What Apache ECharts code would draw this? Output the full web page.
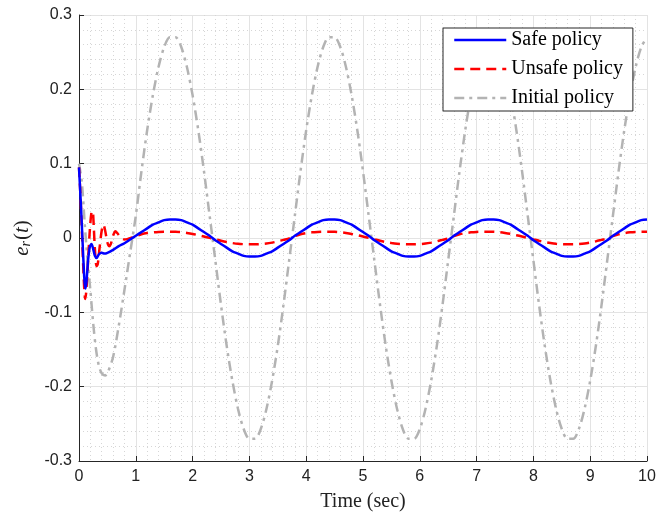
<!DOCTYPE html>
<html>
<head>
<meta charset="utf-8">
<script src="https://cdn.jsdelivr.net/npm/echarts@6/dist/echarts.min.js"></script>
<style>html,body{margin:0;padding:0;background:#fff;}#c{width:672px;height:517px;}</style>
</head>
<body>
<div id="c"></div>
<script>
// Transient portion (t < 1 s)
var tSafeStart = [0, 0.03, 0.06, 0.09, 0.11, 0.13, 0.16, 0.19, 0.22, 0.25, 0.28, 0.31, 0.35, 0.40, 0.45, 0.50, 0.60, 0.70, 0.80, 0.90];
var safeStart  = [0.095, 0.05, 0.0, -0.05, -0.068, -0.06, -0.03, -0.012, -0.008, -0.015, -0.024, -0.027, -0.022, -0.020, -0.021, -0.020, -0.016, -0.011, -0.007, -0.002];

var tUnsafeStart = [0, 0.03, 0.06, 0.09, 0.11, 0.13, 0.16, 0.19, 0.22, 0.24, 0.26, 0.28, 0.31, 0.33, 0.36, 0.40, 0.43, 0.46, 0.50, 0.53, 0.56, 0.60, 0.64, 0.68, 0.72, 0.76, 0.80, 0.85, 0.90, 0.95];
var unsafeStart  = [0.095, 0.05, -0.01, -0.065, -0.082, -0.07, -0.03, 0.01, 0.035, 0.036, 0.015, -0.015, -0.038, -0.035, -0.015, 0.01, 0.018, 0.01, -0.006, -0.011, -0.008, 0.003, 0.009, 0.006, 0.002, -0.001, -0.002, -0.0015, -0.0003, 0.0012];

var tInitialStart = [0, 0.05, 0.10, 0.15, 0.20, 0.25, 0.30, 0.35, 0.40, 0.46, 0.50, 0.60, 0.70, 0.80, 0.90];
var initialStart  = [0.100, 0.075, 0.020, -0.030, -0.070, -0.115, -0.150, -0.172, -0.182, -0.185, -0.182, -0.160, -0.118, -0.070, -0.020];

// Steady portion, t = 1.0 ... 10.0 s
var tSteady = [1.0,1.1,1.2,1.3,1.4,1.5,1.6,1.7,1.8,1.9,2.0,2.1,2.2,2.3,2.4,2.5,2.6,2.7,2.8,2.9,3.0,3.1,3.2,3.3,3.4,3.5,3.6,3.7,3.8,3.9,4.0,4.1,4.2,4.3,4.4,4.5,4.6,4.7,4.8,4.9,5.0,5.1,5.2,5.3,5.4,5.5,5.6,5.7,5.8,5.9,6.0,6.1,6.2,6.3,6.4,6.5,6.6,6.7,6.8,6.9,7.0,7.1,7.2,7.3,7.4,7.5,7.6,7.7,7.8,7.9,8.0,8.1,8.2,8.3,8.4,8.5,8.6,8.7,8.8,8.9,9.0,9.1,9.2,9.3,9.4,9.5,9.6,9.7,9.8,9.9,10.0];

var safeSteady = [
 0.003,0.008,0.013,0.018,0.021,0.024,0.025,0.025,0.024,0.021,0.018,0.013,0.008,0.003,-0.003,-0.008,-0.013,-0.018,-0.021,-0.024,-0.025,-0.025,-0.024,-0.021,-0.018,-0.013,-0.008,-0.003,
 0.003,0.008,0.013,0.018,0.021,0.024,0.025,0.025,0.024,0.021,0.018,0.013,0.008,0.003,-0.003,-0.008,-0.013,-0.018,-0.021,-0.024,-0.025,-0.025,-0.024,-0.021,-0.018,-0.013,-0.008,-0.003,
 0.003,0.008,0.013,0.018,0.021,0.024,0.025,0.025,0.024,0.021,0.018,0.013,0.008,0.003,-0.003,-0.008,-0.013,-0.018,-0.021,-0.024,-0.025,-0.025,-0.024,-0.021,-0.018,-0.013,-0.008,-0.003,
 0.003,0.008,0.013,0.018,0.021,0.024,0.025];

var unsafeSteady = [
 0.0025,0.0050,0.0066,0.0076,0.0082,0.0085,0.0085,0.0083,0.0078,0.0068,0.0055,0.0038,0.0020,0.0002,-0.0018,-0.0038,-0.0055,-0.0068,-0.0078,-0.0083,-0.0085,-0.0085,-0.0082,-0.0075,-0.0062,-0.0045,-0.0025,-0.0005,
 0.0025,0.0050,0.0066,0.0076,0.0082,0.0085,0.0085,0.0083,0.0078,0.0068,0.0055,0.0038,0.0020,0.0002,-0.0018,-0.0038,-0.0055,-0.0068,-0.0078,-0.0083,-0.0085,-0.0085,-0.0082,-0.0075,-0.0062,-0.0045,-0.0025,-0.0005,
 0.0025,0.0050,0.0066,0.0076,0.0082,0.0085,0.0085,0.0083,0.0078,0.0068,0.0055,0.0038,0.0020,0.0002,-0.0018,-0.0038,-0.0055,-0.0068,-0.0078,-0.0083,-0.0085,-0.0085,-0.0082,-0.0075,-0.0062,-0.0045,-0.0025,-0.0005,
 0.0025,0.0050,0.0066,0.0076,0.0082,0.0085,0.0085];

var initialSteady = [
 0.030,0.090,0.145,0.192,0.230,0.257,0.270,0.270,0.257,0.230,0.192,0.145,0.090,0.030,-0.030,-0.090,-0.145,-0.192,-0.230,-0.257,-0.270,-0.270,-0.257,-0.230,-0.192,-0.145,-0.090,-0.030,
 0.030,0.090,0.145,0.192,0.230,0.257,0.270,0.270,0.257,0.230,0.192,0.145,0.090,0.030,-0.030,-0.090,-0.145,-0.192,-0.230,-0.257,-0.270,-0.270,-0.257,-0.230,-0.192,-0.145,-0.090,-0.030,
 0.030,0.090,0.145,0.192,0.230,0.257,0.270,0.270,0.257,0.230,0.192,0.145,0.090,0.030,-0.030,-0.090,-0.145,-0.192,-0.230,-0.257,-0.270,-0.270,-0.257,-0.230,-0.192,-0.145,-0.090,-0.030,
 0.030,0.090,0.145,0.192,0.230,0.257,0.270];

var seriesNames = ['Safe policy', 'Unsafe policy', 'Initial policy'];
var xTicks = [0,1,2,3,4,5,6,7,8,9,10];
var yTicks = [-0.3,-0.2,-0.1,0,0.1,0.2,0.3];

function pairs(ts, vs) {
  var out = [];
  for (var i = 0; i < ts.length; i++) out.push([ts[i], vs[i]]);
  return out;
}
var safeData = pairs(tSafeStart, safeStart).concat(pairs(tSteady, safeSteady));
var unsafeData = pairs(tUnsafeStart, unsafeStart).concat(pairs(tSteady, unsafeSteady));
var initialData = pairs(tInitialStart, initialStart).concat(pairs(tSteady, initialSteady));

var chart = echarts.init(document.getElementById('c'), null, {renderer: 'canvas'});
var sansFont = 'Liberation Sans, Arial, Helvetica, sans-serif';
var serifFont = 'Liberation Serif, Times New Roman, serif';

chart.setOption({
  animation: false,
  backgroundColor: '#ffffff',
  grid: {left: 79, right: 25, top: 15, bottom: 53, containLabel: false},
  legend: {
    orient: 'vertical',
    left: 443, top: 28,
    backgroundColor: '#ffffff',
    borderColor: '#262626',
    borderWidth: 1,
    borderRadius: 0,
    padding: [2, 10, 3, 10],
    itemWidth: 52,
    itemHeight: 14,
    itemGap: 9,
    itemStyle: {opacity: 0},
    lineStyle: {width: 2.5},
    textStyle: {fontFamily: serifFont, fontSize: 20, color: '#000'},
    data: seriesNames
  },
  xAxis: {
    type: 'value',
    min: xTicks[0], max: xTicks[xTicks.length - 1], interval: 1,
    name: 'Time (sec)',
    nameLocation: 'middle',
    nameGap: 31,
    nameTextStyle: {fontFamily: serifFont, fontSize: 20, color: '#222'},
    axisLine: {show: true, onZero: false, lineStyle: {color: '#262626', width: 1}},
    axisTick: {show: true, inside: true, length: 5, lineStyle: {color: '#262626'}},
    axisLabel: {fontFamily: sansFont, fontSize: 16, color: '#222', margin: 8},
    splitLine: {show: true, lineStyle: {color: '#e3e3e3', width: 1}},
    minorTick: {show: false, splitNumber: 5},
    minorSplitLine: {show: true, lineStyle: {color: '#d6d6d6', width: 1, type: [1, 3]}}
  },
  yAxis: {
    type: 'value',
    min: yTicks[0], max: yTicks[yTicks.length - 1], interval: 0.1,
    name: '{i|e}{s|r}{n|(}{i|t}{n|)}',
    nameLocation: 'middle',
    nameGap: 42,
    nameRotate: 90,
    nameTextStyle: {
      color: '#222',
      rich: {
        i: {fontFamily: serifFont, fontStyle: 'italic', fontSize: 21, color: '#222'},
        s: {fontFamily: serifFont, fontStyle: 'italic', fontSize: 14, color: '#222', verticalAlign: 'bottom', padding: [8, 1, 0, 0]},
        n: {fontFamily: serifFont, fontSize: 21, color: '#222'}
      }
    },
    axisLine: {show: true, onZero: false, lineStyle: {color: '#262626', width: 1}},
    axisTick: {show: true, inside: true, length: 5, lineStyle: {color: '#262626'}},
    axisLabel: {
      fontFamily: sansFont, fontSize: 16, color: '#222', margin: 7,
      formatter: function (v) { return Math.abs(v) < 1e-9 ? '0' : v.toFixed(1); }
    },
    splitLine: {show: true, lineStyle: {color: '#e3e3e3', width: 1}},
    minorTick: {show: false, splitNumber: 5},
    minorSplitLine: {show: true, lineStyle: {color: '#d6d6d6', width: 1, type: [1, 3]}}
  },
  series: [
    {
      name: seriesNames[2], type: 'line', data: initialData, symbol: 'none', smooth: 0.3, z: 2,
      itemStyle: {color: '#b3b3b3'},
      lineStyle: {color: '#b3b3b3', width: 2.5, type: [10, 5, 3, 5]}
    },
    {
      name: seriesNames[1], type: 'line', data: unsafeData, symbol: 'none', smooth: 0.3, z: 3,
      itemStyle: {color: '#ff0000'},
      lineStyle: {color: '#ff0000', width: 2.5, type: [10, 6]}
    },
    {
      name: seriesNames[0], type: 'line', data: safeData, symbol: 'none', smooth: 0.3, z: 4,
      itemStyle: {color: '#0000ff'},
      lineStyle: {color: '#0000ff', width: 2.5}
    }
  ]
});
</script>
</body>
</html>
